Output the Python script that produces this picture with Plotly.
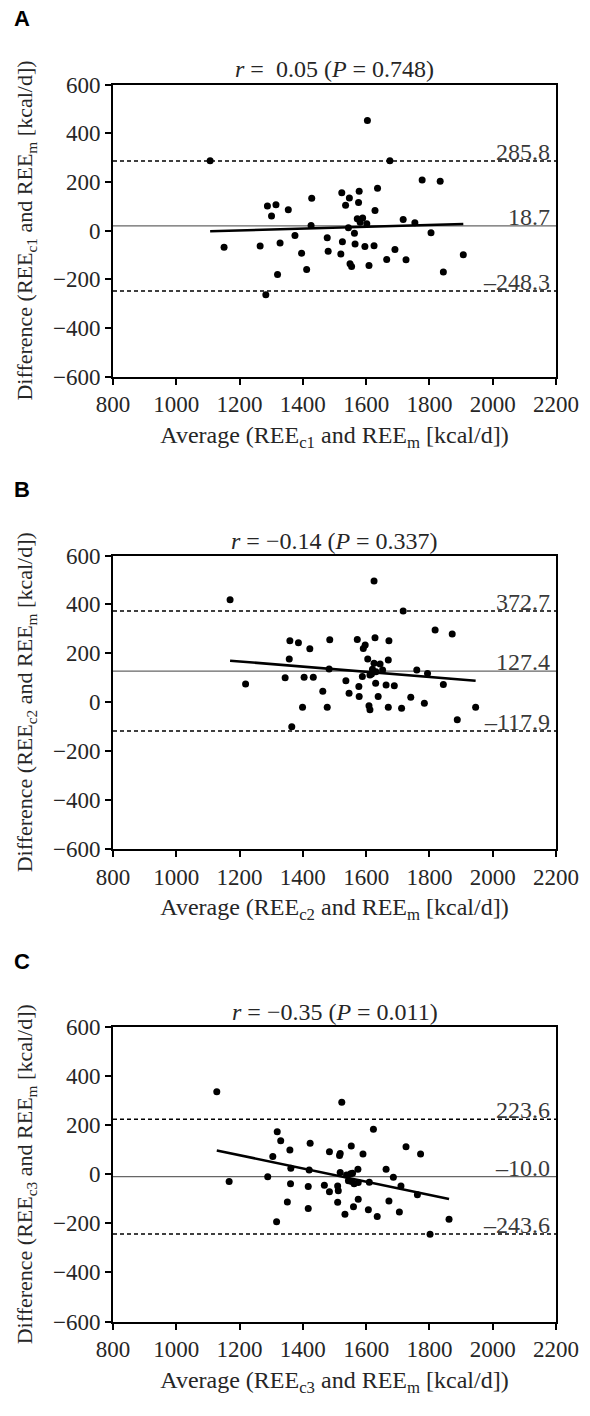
import plotly.graph_objects as go

# ---------------- data ----------------
A_x = [1107, 1151, 1265, 1288, 1315, 1301, 1354, 1328, 1320, 1283, 1375, 1396, 1412, 1428, 1426, 1477, 1480,
       1604, 1675, 1523, 1547, 1578, 1535, 1576, 1636, 1628, 1777, 1834, 1572, 1589, 1581, 1602, 1717, 1754,
       1544, 1563, 1805, 1525, 1565, 1596, 1625, 1691, 1520, 1665, 1726, 1549, 1554, 1609, 1907, 1844]
A_y = [287, -69, -64, 101, 106, 60, 85, -51, -181, -264, -21, -93, -160, 133, 21, -30, -85,
       452, 287, 155, 134, 161, 104, 115, 174, 82, 208, 202, 48, 51, 34, 28, 45, 32,
       11, -11, -9, -46, -55, -66, -63, -78, -97, -119, -120, -137, -148, -144, -100, -171]

B_x = [1170, 1219, 1344, 1359, 1386, 1357, 1422, 1404, 1433, 1463, 1399, 1477, 1485, 1365,
       1625, 1717, 1818, 1872, 1572, 1597, 1591, 1628, 1672, 1605, 1670, 1625, 1644, 1483, 1588,
       1617, 1631, 1652, 1760, 1794, 1536, 1630, 1663, 1689, 1844, 1577, 1546, 1578, 1638, 1741,
       1609, 1612, 1670, 1712, 1784, 1946, 1888, 1620, 1612]
B_y = [419, 75, 100, 251, 243, 177, 219, 102, 102, 45, -20, -20, 256, -100,
       496, 373, 295, 279, 257, 234, 220, 264, 251, 177, 173, 159, 156, 136, 105,
       116, 125, 132, 132, 118, 88, 78, 71, 67, 73, 64, 37, 23, 23, 20,
       -14, -31, -20, -25, -4, -20, -72, 135, 111]

C_x = [1128, 1319, 1330, 1359, 1305, 1423, 1362, 1420, 1484, 1167, 1289, 1361, 1417, 1468,
       1484, 1351, 1417, 1317,
       1523, 1623, 1518, 1516, 1553, 1590, 1726, 1772, 1518, 1574, 1663, 1686,
       1538, 1551, 1557, 1544, 1554, 1562, 1575, 1610, 1710, 1510, 1512, 1762, 1510, 1575, 1672,
       1533, 1560, 1607, 1635, 1705, 1862, 1802]
C_y = [336, 173, 137, 99, 72, 126, 24, 17, 92, -30, -10, -39, -50, -45,
       -71, -113, -140, -194,
       293, 183, 85, 76, 115, 83, 112, 83, 7, 20, 20, -12,
       -3, 2, 4, -26, -30, -39, -34, -33, -48, -48, -67, -84, -114, -102, -109,
       -163, -132, -145, -172, -154, -183, -244]

# regression line end points (x, y)
A_reg_x = [1107, 1907]; A_reg_y = [-3, 27]
B_reg_x = [1170, 1946]; B_reg_y = [170, 88]
C_reg_x = [1128, 1862]; C_reg_y = [97, -101]

# bias and limits of agreement
A_lines = [285.8, 18.7, -248.3]
B_lines = [372.7, 127.4, -117.9]
C_lines = [223.6, -10.0, -243.6]

letters = ["A", "B", "C"]
stat_titles = ["<i>r</i> =\u00a0\u00a00.05 (<i>P</i> = 0.748)",
               "<i>r</i> = \u22120.14 (<i>P</i> = 0.337)",
               "<i>r</i> = \u22120.35 (<i>P</i> = 0.011)"]
subs = ["c1", "c2", "c3"]

x_ticks = [800, 1000, 1200, 1400, 1600, 1800, 2000, 2200]
y_ticks = [-600, -400, -200, 0, 200, 400, 600]

# ---------------- layout ----------------
W, H = 590, 1416
SERIF = "Liberation Serif, Times New Roman, serif"
TXT = "#262626"
x_dom = [113 / W, 556 / W]
tops = [84.5, 555.5, 1027]
bottoms = [376.5, 849, 1321.5]

fig = go.Figure()
panels = [(A_x, A_y, A_reg_x, A_reg_y, A_lines),
          (B_x, B_y, B_reg_x, B_reg_y, B_lines),
          (C_x, C_y, C_reg_x, C_reg_y, C_lines)]

def fmt(v):
    s = f"{abs(v):.1f}"
    return ("\u2013" + s) if v < 0 else s

for i, (xs, ys, rx, ry, lines) in enumerate(panels):
    n = "" if i == 0 else str(i + 1)
    xa, ya = "x" + n, "y" + n
    # mean line (thin grey)
    fig.add_trace(go.Scatter(x=[800, 2200], y=[lines[1], lines[1]], mode="lines",
                             line=dict(color="#666666", width=1.3), xaxis=xa, yaxis=ya,
                             showlegend=False, hoverinfo="skip"))
    # limits of agreement (dashed)
    for v in (lines[0], lines[2]):
        fig.add_trace(go.Scatter(x=[800, 2200], y=[v, v], mode="lines",
                                 line=dict(color="black", width=1.5, dash="4px,3px"),
                                 xaxis=xa, yaxis=ya, showlegend=False, hoverinfo="skip"))
    # regression line
    fig.add_trace(go.Scatter(x=rx, y=ry, mode="lines", line=dict(color="black", width=2.5),
                             xaxis=xa, yaxis=ya, showlegend=False, hoverinfo="skip"))
    # points
    fig.add_trace(go.Scatter(x=xs, y=ys, mode="markers",
                             marker=dict(color="black", size=7), xaxis=xa, yaxis=ya,
                             showlegend=False))
    y_dom = [1 - bottoms[i] / H, 1 - tops[i] / H]
    axis_common = dict(showline=True, linecolor="black", linewidth=2, mirror=True,
                       ticks="outside", ticklen=6, tickwidth=2, tickcolor="black",
                       showgrid=False, zeroline=False, automargin=False,
                       tickfont=dict(family=SERIF, size=23, color=TXT))
    fig.layout["xaxis" + n] = dict(domain=x_dom, range=[800, 2200], tickvals=x_ticks,
                                   anchor=ya, **axis_common,
                                   title=dict(text=f"Average (REE<sub>{subs[i]}</sub> and REE<sub>m</sub> [kcal/d])",
                                              font=dict(family=SERIF, size=24, color=TXT),
                                              standoff=10))
    fig.layout["yaxis" + n] = dict(domain=y_dom, range=[-600, 600], tickvals=y_ticks,
                                   anchor=xa, **axis_common,
                                   title=dict(text=f"Difference (REE<sub>{subs[i]}</sub> and REE<sub>m</sub> [kcal/d])",
                                              font=dict(family=SERIF, size=22, color=TXT),
                                              standoff=14))
    # value labels
    for v in lines:
        fig.add_annotation(x=2200, y=v, xref=xa, yref=ya, text=fmt(v), showarrow=False,
                           xanchor="right", yanchor="bottom", yshift=-6, xshift=-4,
                           font=dict(family=SERIF, size=24, color="#3a3a3a"))
    # stat title
    fig.add_annotation(x=1500, y=600, xref=xa, yref=ya, text=stat_titles[i], showarrow=False,
                       xanchor="center", yanchor="bottom", yshift=0,
                       font=dict(family=SERIF, size=24, color=TXT))
    # panel letter
    fig.add_annotation(x=12 / W, y=1 - (tops[i] - 66) / H, xref="paper", yref="paper",
                       text=f"<b>{letters[i]}</b>", showarrow=False, xanchor="left",
                       yanchor="middle",
                       font=dict(family="Liberation Sans, Arial, sans-serif", size=22, color="black"))

fig.update_layout(width=W, height=H, margin=dict(l=0, r=0, t=0, b=0),
                  paper_bgcolor="white", plot_bgcolor="white", showlegend=False)

fig.write_html("out.html")
